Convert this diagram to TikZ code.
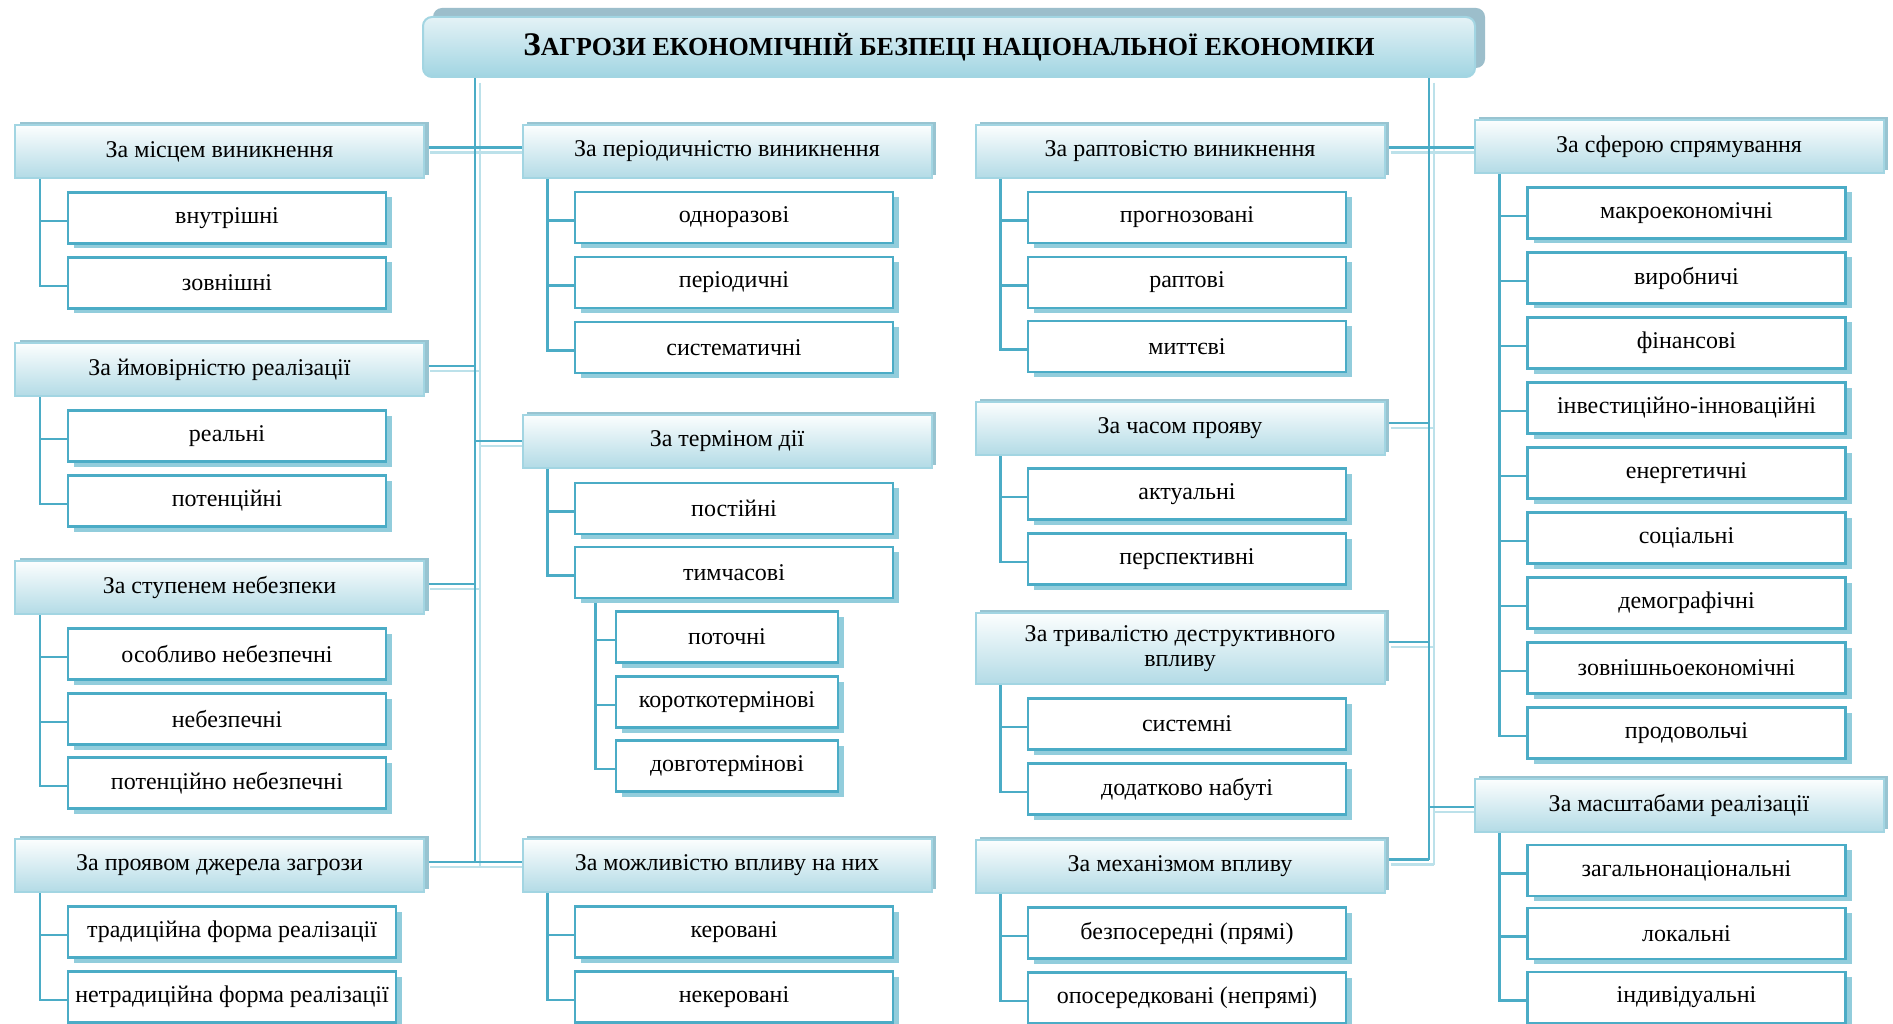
\documentclass[tikz,border=0pt]{standalone}
\usepackage{fontspec}
\setmainfont{Liberation Serif}
\usetikzlibrary{shadows}
\pgfdeclarelayer{bg}
\pgfsetlayers{bg,main}
\definecolor{accteal}{HTML}{4BACC6}
\definecolor{cshadow}{HTML}{92CDDC}
\definecolor{hdrline}{HTML}{A2D5E2}
\definecolor{hdrtop}{HTML}{FCFEFE}
\definecolor{hdrbot}{HTML}{B3DBE6}
\definecolor{hdrshadow}{HTML}{98C4D1}
\definecolor{lightline}{HTML}{BCE1EA}
\definecolor{ttltop}{HTML}{E4F2F6}
\definecolor{ttlbot}{HTML}{A1D5E2}
\definecolor{ttlshadow}{HTML}{9CBECB}
\newcommand\hfont{\fontsize{24}{25}\selectfont}
\newcommand\cfont{\fontsize{24}{25}\selectfont}
\newcommand\drawtrunks[1]{%
  \draw[#1] (tL) -- (tL |- p14);
  \draw[#1] (p11) -- (p11 -| h21.west);
  \draw[#1] (p12) -- (p12 -| tL);
  \draw[#1] (p13) -- (p13 -| tL);
  \draw[#1] (p14) -- (p14 -| h23.west);
  \draw[#1] (tL |- p22) -- (p22);
  \draw[#1] (tR) -- (tR |- p34);
  \draw[#1] (p31) -- (p31 -| h41.west);
  \draw[#1] (p32) -- (p32 -| tR);
  \draw[#1] (p33) -- (p33 -| tR);
  \draw[#1] (p34) -- (p34 -| tR);
  \draw[#1] (tR |- p42) -- (p42);
}
\newcommand\branch[3]{%
  \coordinate (bv) at ([xshift=#3]#1.south west);
  \foreach \cc in {#2} {\draw[cline] (bv) |- ([yshift=-3pt]\cc.west);}
}
\begin{document}
\begin{tikzpicture}[x=1pt,y=-1pt,
  hdr/.style={rectangle, draw=hdrline, line width=2pt, top color=hdrtop, bottom color=hdrbot,
    minimum width=409pt, minimum height=53pt, inner sep=2pt, align=center, font=\hfont,
    general shadow={fill=hdrshadow, shadow xshift=4.5pt, shadow yshift=3pt}},
  cbox/.style={rectangle, draw=accteal, line width=2.7pt, fill=white,
    minimum width=318pt, minimum height=51pt, inner sep=2pt, font=\cfont,
    general shadow={fill=cshadow, shadow xshift=6pt, shadow yshift=-5pt}},
  ttl/.style={rectangle, rounded corners=9pt, draw=hdrline, line width=2pt, top color=ttltop, bottom color=ttlbot,
    minimum width=1052pt, minimum height=60pt, inner sep=2pt,
    general shadow={fill=ttlshadow, shadow xshift=10pt, shadow yshift=9pt}},
  tline/.style={draw=accteal, line width=2.9pt},
  lline/.style={draw=lightline, line width=2.9pt},
  cline/.style={draw=accteal, line width=2.8pt}
]
\useasboundingbox (0,0) rectangle (1893,1024);

\node[ttl] (title) at (949,47) {\bfseries{\fontsize{33}{36}\selectfont З}{\fontsize{26}{30}\selectfont АГРОЗИ ЕКОНОМІЧНІЙ БЕЗПЕЦІ НАЦІОНАЛЬНОЇ ЕКОНОМІКИ}};

% column 1
\node[hdr] (h11) at (219.5,151.5) {За місцем виникнення};
\node[cbox] (c111) at (227,218) {внутрішні};
\node[cbox] (c112) at (227,283) {зовнішні};
\node[hdr] (h12) at (219.5,369.5) {За ймовірністю реалізації};
\node[cbox] (c121) at (227,436) {реальні};
\node[cbox] (c122) at (227,501) {потенційні};
\node[hdr] (h13) at (219.5,587.5) {За ступенем небезпеки};
\node[cbox] (c131) at (227,654) {особливо небезпечні};
\node[cbox] (c132) at (227,719) {небезпечні};
\node[cbox] (c133) at (227,783) {потенційно небезпечні};
\node[hdr] (h14) at (219.5,865.5) {За проявом джерела загрози};
\node[cbox, minimum width=328pt] (c141) at (232,932) {традиційна форма реалізації};
\node[cbox, minimum width=328pt] (c142) at (232,997) {нетрадиційна форма реалізації};

% column 2
\node[hdr] (h21) at (727,151.5) {За періодичністю виникнення};
\node[cbox] (c211) at (734,217.5) {одноразові};
\node[cbox] (c212) at (734,282.5) {періодичні};
\node[cbox] (c213) at (734,347.5) {систематичні};
\node[hdr] (h22) at (727,441) {За терміном дії};
\node[cbox] (c221) at (734,508.5) {постійні};
\node[cbox] (c222) at (734,572.5) {тимчасові};
\node[cbox, minimum width=222pt] (g1) at (727,637) {поточні};
\node[cbox, minimum width=222pt] (g2) at (727,702) {короткотермінові};
\node[cbox, minimum width=222pt] (g3) at (727,766) {довготермінові};
\node[hdr] (h23) at (727,865.5) {За можливістю впливу на них};
\node[cbox] (c231) at (734,932) {керовані};
\node[cbox] (c232) at (734,997) {некеровані};

% column 3
\node[hdr] (h31) at (1180,151.5) {За раптовістю виникнення};
\node[cbox] (c311) at (1187,217.5) {прогнозовані};
\node[cbox] (c312) at (1187,282.5) {раптові};
\node[cbox] (c313) at (1187,346.5) {миттєві};
\node[hdr] (h32) at (1180,428) {За часом прояву};
\node[cbox] (c321) at (1187,494) {актуальні};
\node[cbox] (c322) at (1187,559) {перспективні};
\node[hdr, minimum height=71pt] (h33) at (1180,648.5) {За тривалістю деструктивного\\впливу};
\node[cbox] (c331) at (1187,724) {системні};
\node[cbox] (c332) at (1187,789) {додатково набуті};
\node[hdr] (h34) at (1180,866.5) {За механізмом впливу};
\node[cbox] (c341) at (1187,933) {безпосередні (прямі)};
\node[cbox] (c342) at (1187,998) {опосередковані (непрямі)};

% column 4
\node[hdr] (h41) at (1679,146.5) {За сферою спрямування};
\node[cbox] (c411) at (1686.5,213) {макроекономічні};
\node[cbox] (c412) at (1686.5,278) {виробничі};
\node[cbox] (c413) at (1686.5,343) {фінансові};
\node[cbox] (c414) at (1686.5,408) {інвестиційно-інноваційні};
\node[cbox] (c415) at (1686.5,473) {енергетичні};
\node[cbox] (c416) at (1686.5,538) {соціальні};
\node[cbox] (c417) at (1686.5,603) {демографічні};
\node[cbox] (c418) at (1686.5,668) {зовнішньоекономічні};
\node[cbox] (c419) at (1686.5,733) {продовольчі};
\node[hdr] (h42) at (1679,805.5) {За масштабами реалізації};
\node[cbox] (c421) at (1686.5,870.5) {загальнонаціональні};
\node[cbox] (c422) at (1686.5,933.5) {локальні};
\node[cbox] (c423) at (1686.5,997.5) {індивідуальні};

% connector points
\coordinate (tL) at ([xshift=53pt]title.south west);
\coordinate (tR) at ([xshift=-47pt]title.south east);
\coordinate (p11) at ([yshift=3.8pt]h11.east);
\coordinate (p12) at ([yshift=3.5pt]h12.east);
\coordinate (p13) at ([yshift=3.5pt]h13.east);
\coordinate (p14) at ([yshift=3.5pt]h14.east);
\coordinate (p22) at (h22.west);
\coordinate (p31) at ([yshift=3.8pt]h31.east);
\coordinate (p32) at ([yshift=5pt]h32.east);
\coordinate (p33) at ([yshift=6.5pt]h33.east);
\coordinate (p34) at ([yshift=7pt]h34.east);
\coordinate (p42) at ([yshift=-1.5pt]h42.west);

\begin{pgfonlayer}{bg}
  \fill[white] (0,0) rectangle (1893,1024);
  \drawtrunks{lline, transform canvas={xshift=5pt, yshift=-5pt}}
  \drawtrunks{tline}
  \branch{h11}{c111,c112}{26pt}
  \branch{h12}{c121,c122}{26pt}
  \branch{h13}{c131,c132,c133}{26pt}
  \branch{h14}{c141,c142}{26pt}
  \branch{h21}{c211,c212,c213}{26pt}
  \branch{h22}{c221,c222}{26pt}
  \branch{c222}{g1,g2,g3}{21.5pt}
  \branch{h23}{c231,c232}{26pt}
  \branch{h31}{c311,c312,c313}{26pt}
  \branch{h32}{c321,c322}{26pt}
  \branch{h33}{c331,c332}{26pt}
  \branch{h34}{c341,c342}{26pt}
  \branch{h41}{c411,c412,c413,c414,c415,c416,c417,c418,c419}{26pt}
  \branch{h42}{c421,c422,c423}{26pt}
\end{pgfonlayer}
\end{tikzpicture}
\end{document}
